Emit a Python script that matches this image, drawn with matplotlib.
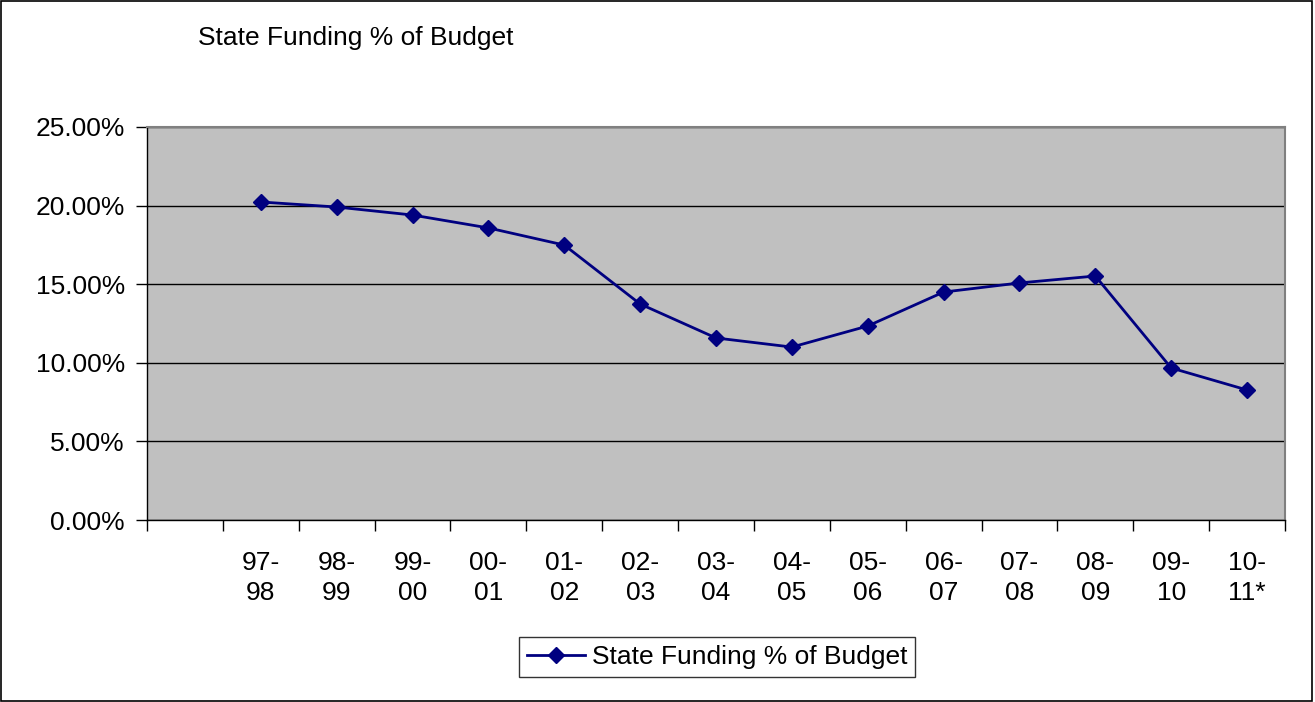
import matplotlib
matplotlib.use("Agg")
import matplotlib.pyplot as plt
from matplotlib.ticker import FixedLocator, FuncFormatter
from matplotlib.patches import Rectangle

# fiscal years; the first slot is empty in the original chart
years = ['', '97-\n98', '98-\n99', '99-\n00', '00-\n01', '01-\n02', '02-\n03', '03-\n04',
         '04-\n05', '05-\n06', '06-\n07', '07-\n08', '08-\n09', '09-\n10', '10-\n11*']
funding_pct = [20.23, 19.91, 19.40, 18.58, 17.49, 13.74, 11.58,
               11.00, 12.34, 14.50, 15.08, 15.52, 9.67, 8.27]
series_name = 'State Funding % of Budget'

plt.rcParams['font.family'] = ['Liberation Sans', 'DejaVu Sans']
fs = 19

fig = plt.figure(figsize=(13.15, 7.02), dpi=100)
ax = fig.add_axes([147/1315, 1-520/702, (1285-147)/1315, (520-127)/702])
ax.set_facecolor('#C0C0C0')

x = list(range(1, len(years)))
ax.plot(x, funding_pct, color='#000080', lw=2.0, marker='D', ms=8.5,
        mec='#000080', mfc='#000080', label=series_name, zorder=3)

ax.set_xlim(-0.5, len(years) - 0.5)
ax.set_ylim(0, 25)

# y axis
ax.set_yticks([0, 5, 10, 15, 20, 25])
ax.yaxis.set_major_formatter(FuncFormatter(lambda v, p: '{:.2f}%'.format(v)))
ax.tick_params(axis='y', direction='out', length=8, width=1, pad=8, labelsize=fs, color='black')
ax.yaxis.grid(True, color='black', lw=1)
ax.set_axisbelow(True)

# x axis: ticks on category borders, labels at centres
ax.xaxis.set_major_locator(FixedLocator([i - 0.5 for i in range(len(years) + 1)]))
ax.xaxis.set_major_formatter(FuncFormatter(lambda v, p: ''))
ax.xaxis.set_minor_locator(FixedLocator(list(range(len(years)))))
ax.set_xticklabels(years, minor=True, linespacing=1.35)
ax.tick_params(axis='x', which='major', direction='out', length=8, width=1, color='black')
ax.tick_params(axis='x', which='minor', length=0, pad=22, labelsize=fs)

for s in ['top', 'right']:
    ax.spines[s].set_color('#808080')
    ax.spines[s].set_linewidth(1.5)
for s in ['left', 'bottom']:
    ax.spines[s].set_color('black')
    ax.spines[s].set_linewidth(1)

fig.text(198/1315, 1-45/702, series_name, fontsize=fs, ha='left', va='baseline')

leg = ax.legend(loc='center', bbox_to_anchor=(717/1315, 1-657/702), bbox_transform=fig.transFigure,
                fontsize=fs, frameon=True, fancybox=False, shadow=False, borderpad=0.3,
                handlelength=2.2, handletextpad=0.25)
leg.get_frame().set_edgecolor('black')
leg.get_frame().set_linewidth(1)

# outer chart border
fig.patches.append(Rectangle((0.001, 0.002), 0.997, 0.996, transform=fig.transFigure,
                             fill=False, edgecolor='black', lw=1.2))

fig.savefig('out.png', dpi=100)
